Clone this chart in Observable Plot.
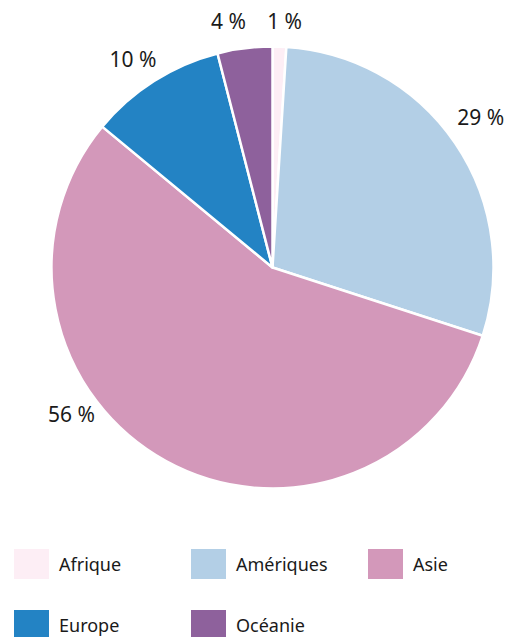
<!DOCTYPE html>
<html>
<head>
<meta charset="utf-8">
<script src="https://cdn.jsdelivr.net/npm/d3@7"></script>
<script src="https://cdn.jsdelivr.net/npm/@observablehq/plot@0.6"></script>
<style>
  html, body { margin: 0; padding: 0; background: #fff; }
  #wrap { position: relative; width: 513px; height: 637px; font-family: "Noto Sans", sans-serif; color: #1a1a1a; }
  #chart svg { display: block; }
  .leg { position: absolute; display: flex; align-items: center; font-size: 18px; }
  .sw { width: 35px; height: 30px; margin-right: 10px; flex: none; }
</style>
</head>
<body>
<div id="wrap">
  <div id="chart"></div>
  <div id="legend"></div>
</div>
<script>
const categories = ["Afrique", "Amériques", "Asie", "Europe", "Océanie"];
const values = [1, 29, 56, 10, 4];
const labels = ["1 %", "29 %", "56 %", "10 %", "4 %"];
const colors = ["#fdeef5", "#b3cfe6", "#d398ba", "#2383c4", "#8e619c"];
// manual label nudges: angle (degrees) from mid-angle, and radial (px)
const labelShift = [0.8, -3.2, 23.3, 0, -2.7];
const labelRadial = [0, 0, -6, 0, 3];

const data = categories.map((c, i) => ({category: c, value: values[i], label: labels[i], color: colors[i], shift: labelShift[i], radial: labelRadial[i]}));
const arcs = d3.pie().sort(null).value(d => d.value)(data);

// outside-end label layout: label box touches a ring just outside the pie
const R = 221;            // pie radius in px (matches the scale ranges below)
const ringPx = 238;       // anchor ring radius in px
const labelFont = 21;
const charW = 0.56 * labelFont, boxH = 16;
const labelData = arcs.map(a => {
  const t = (a.startAngle + a.endAngle) / 2 + a.data.shift * Math.PI / 180;
  const ux = Math.sin(t), uy = -Math.cos(t);
  const w = a.data.label.length * charW;
  const ring = ringPx + a.data.radial;
  return {
    x: ux * (ring + w / 2) / R,
    y: uy * (ring + boxH / 2) / R,
    label: a.data.label
  };
});

const pieMark = (index, scales) => {
  const cx = scales.x(0), cy = scales.y(0);
  const r = scales.x(1) - scales.x(0);
  const arc = d3.arc().innerRadius(0).outerRadius(r);
  const g = d3.create("svg:g").attr("transform", `translate(${cx},${cy})`);
  g.selectAll("path").data(arcs).join("path")
    .attr("d", arc)
    .attr("fill", d => d.data.color)
    .attr("stroke", "#fff")
    .attr("stroke-width", 2.5)
    .attr("stroke-linejoin", "round");
  return g.node();
};

const plot = Plot.plot({
  width: 513,
  height: 530,
  margin: 0,
  x: {domain: [-1, 1], range: [272.5 - R, 272.5 + R], axis: null},
  y: {domain: [-1, 1], range: [267.5 - R, 267.5 + R], axis: null},
  style: {fontFamily: "'Noto Sans', sans-serif", background: "#fff"},
  marks: [
    pieMark,
    Plot.text(labelData, {x: "x", y: "y", text: "label", fontSize: labelFont, fill: "#1a1a1a", textAnchor: "middle"})
  ]
});
document.getElementById("chart").appendChild(plot);

const legendPos = [[14, 549], [191, 549], [368, 549], [14, 610], [191, 610]];
const legend = d3.select("#legend");
data.forEach((d, i) => {
  const item = legend.append("div").attr("class", "leg")
    .style("left", legendPos[i][0] + "px").style("top", legendPos[i][1] + "px");
  item.append("div").attr("class", "sw").style("background", d.color);
  item.append("span").text(d.category);
});
</script>
</body>
</html>
